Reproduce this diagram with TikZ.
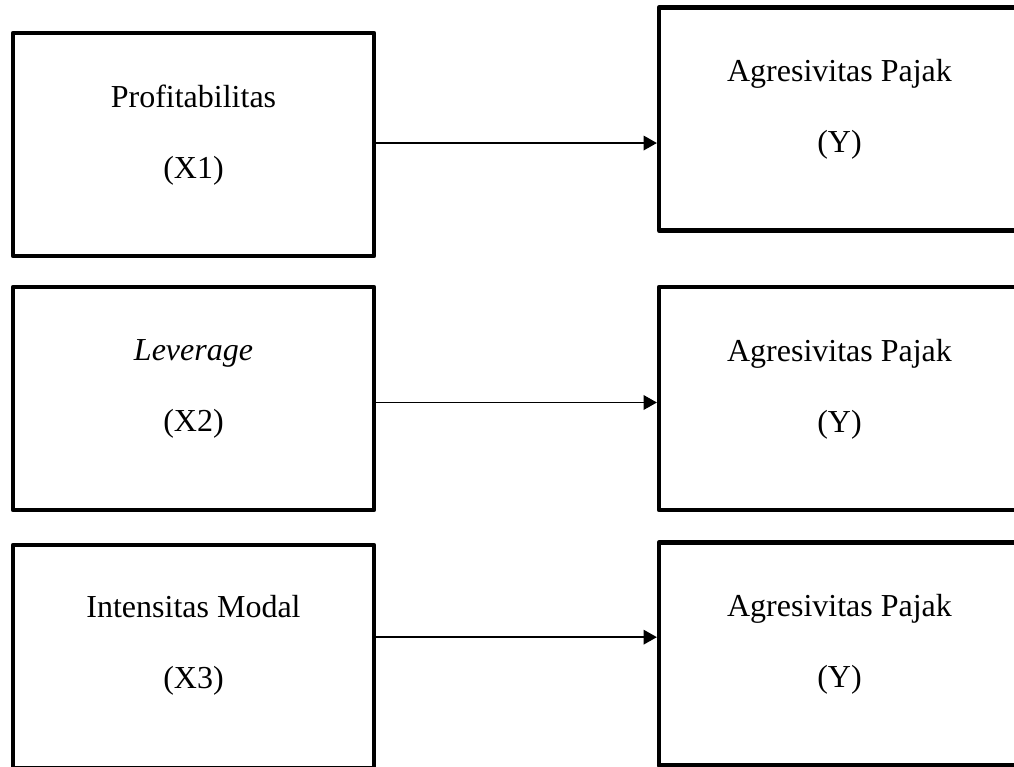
\documentclass[tikz,border=0pt]{standalone}
\usepackage{fontspec}
\setmainfont{Liberation Serif}
\usetikzlibrary{arrows.meta}

\begin{document}
\begin{tikzpicture}[x=0.75pt, y=-0.75pt, >={Triangle[length=10pt, width=11pt]}]
    \tikzset{
        varbox/.style={draw, line width=3.2pt, line join=round, inner sep=0pt,
            minimum width=270.75pt, minimum height=167.25pt},
        vartext/.style={align=center, font=\fontsize{24}{53.25}\selectfont},
        link/.style={->, line width=1.1pt}
    };
    \useasboundingbox (0, 0) rectangle (1014, 767);
    \clip (0, 0) rectangle (1014, 767);
    % left column
    \node[varbox] (x1) at (193.5, 144.5) {};
    \node[varbox] (x2) at (193.5, 398.5) {};
    \node[varbox] (x3) at (193.5, 656.5) {};
    % right column
    \node[varbox] (y1) at (839.5, 119) {};
    \node[varbox] (y2) at (839.5, 398.5) {};
    \node[varbox] (y3) at (839.5, 654) {};
    % texts
    \node[vartext] (x1t) at ([yshift=7pt]x1.center) {Profitabilitas\\(X1)};
    \node[vartext] (x2t) at ([yshift=7pt]x2.center) {\textit{Leverage}\\(X2)};
    \node[vartext] (x3t) at ([yshift=8.5pt]x3.center) {Intensitas Modal\\(X3)};
    \node[vartext] (y1t) at ([yshift=7pt]y1.center) {Agresivitas Pajak\\(Y)};
    \node[vartext] (y2t) at ([yshift=7pt]y2.center) {Agresivitas Pajak\\(Y)};
    \node[vartext] (y3t) at ([yshift=7pt]y3.center) {Agresivitas Pajak\\(Y)};
    % arrows
    \draw[link] ([yshift=1.1pt]x1.east) -- ([yshift=1.1pt]x1.east -| y1.west);
    \draw[link] ([yshift=-3pt]x2.east) -- ([yshift=-3pt]x2.east -| y2.west);
    \draw[link] ([yshift=14.5pt]x3.east) -- ([yshift=14.5pt]x3.east -| y3.west);
\end{tikzpicture}
\end{document}
